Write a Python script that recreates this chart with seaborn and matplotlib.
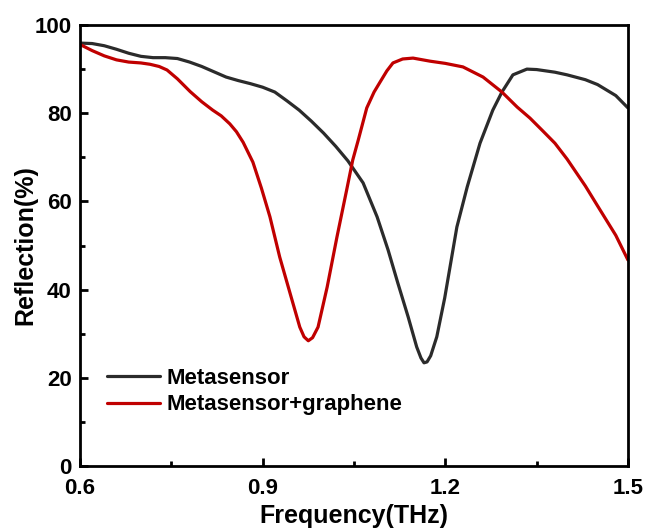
import pandas as pd
import numpy as np
import matplotlib.pyplot as plt
import seaborn as sns
from matplotlib.ticker import MultipleLocator

# Metasensor (black) values
freq_meta = [0.60, 0.62, 0.64, 0.66, 0.68, 0.70, 0.72, 0.74, 0.76, 0.78, 0.80, 0.82,
             0.84, 0.86, 0.88, 0.90, 0.92, 0.94, 0.96, 0.98, 1.00, 1.02, 1.04, 1.065,
             1.088, 1.106, 1.122, 1.139, 1.153, 1.160, 1.165, 1.170, 1.176, 1.186,
             1.199, 1.219, 1.236, 1.257, 1.278, 1.293, 1.311, 1.334, 1.35, 1.38,
             1.40, 1.43, 1.45, 1.48, 1.50]
refl_meta = [95.9, 95.8, 95.3, 94.5, 93.6, 92.9, 92.6, 92.6, 92.4, 91.6, 90.6, 89.4,
             88.2, 87.4, 86.7, 85.9, 84.8, 82.8, 80.7, 78.2, 75.5, 72.5, 69.2, 64.2,
             56.5, 49.0, 41.5, 33.8, 27.0, 24.5, 23.4, 23.6, 25.0, 29.3,
             38.1, 54.2, 63.3, 73.2, 80.7, 84.8, 88.7, 90.0, 89.9, 89.3,
             88.7, 87.6, 86.5, 84.0, 81.2]

# Metasensor+graphene (red) values
freq_gra = [0.60, 0.62, 0.64, 0.66, 0.68, 0.70, 0.715, 0.73, 0.743, 0.76, 0.781, 0.80,
            0.818, 0.832, 0.846, 0.857, 0.868, 0.884, 0.898, 0.912, 0.928, 0.945,
            0.961, 0.968, 0.975, 0.982, 0.991, 1.006, 1.022, 1.038, 1.048, 1.057,
            1.071, 1.083, 1.093, 1.104, 1.114, 1.13, 1.147, 1.175, 1.20, 1.229,
            1.262, 1.293, 1.318, 1.339, 1.36, 1.38, 1.40, 1.43, 1.45, 1.48, 1.50]
refl_gra = [95.6, 94.2, 93.0, 92.1, 91.6, 91.4, 91.1, 90.6, 89.8, 87.8, 84.9, 82.6,
            80.7, 79.4, 77.6, 75.8, 73.4, 68.9, 63.0, 56.5, 47.4, 39.2,
            31.5, 29.3, 28.4, 29.1, 31.5, 40.6, 51.9, 62.6, 69.4, 73.9,
            81.2, 84.8, 87.1, 89.6, 91.4, 92.3, 92.5, 91.8, 91.3, 90.5,
            88.2, 84.8, 81.4, 78.9, 76.0, 73.2, 69.6, 63.5, 59.0, 52.3, 46.7]

df = pd.concat([
    pd.DataFrame({"Frequency": freq_meta, "Reflection": refl_meta, "Sample": "Metasensor"}),
    pd.DataFrame({"Frequency": freq_gra, "Reflection": refl_gra, "Sample": "Metasensor+graphene"}),
])

sns.set_style("ticks")
plt.rcParams["font.family"] = ["Liberation Sans", "DejaVu Sans"]
plt.rcParams["font.weight"] = "bold"
plt.rcParams["text.color"] = "black"
plt.rcParams["axes.labelcolor"] = "black"
plt.rcParams["xtick.color"] = "black"
plt.rcParams["ytick.color"] = "black"

fig = plt.figure(figsize=(6.47, 5.29), dpi=100)
ax = fig.add_axes([0.1236, 0.1191, 0.847, 0.8336])

sns.lineplot(data=df, x="Frequency", y="Reflection", hue="Sample",
             palette={"Metasensor": "#2b2b2b", "Metasensor+graphene": "#c00000"},
             linewidth=2.3, ax=ax, sort=False)

ax.set_xlim(0.6, 1.5)
ax.set_ylim(0, 100)
ax.xaxis.set_major_locator(MultipleLocator(0.3))
ax.xaxis.set_minor_locator(MultipleLocator(0.15))
ax.yaxis.set_major_locator(MultipleLocator(20))
ax.yaxis.set_minor_locator(MultipleLocator(10))
ax.tick_params(axis="both", which="major", direction="in", length=6, width=2,
               labelsize=16)
ax.tick_params(axis="x", which="major", pad=9)
ax.tick_params(axis="y", which="major", pad=6)
ax.tick_params(axis="both", which="minor", direction="in", length=3.5, width=2)
for lab in ax.get_xticklabels() + ax.get_yticklabels():
    lab.set_fontweight("bold")

for side in ["top", "right", "bottom", "left"]:
    ax.spines[side].set_visible(True)
    ax.spines[side].set_linewidth(2)
    ax.spines[side].set_color("black")

ax.set_xlabel("Frequency(THz)", fontsize=18, fontweight="bold", labelpad=3)
ax.set_ylabel("Reflection(%)", fontsize=18, fontweight="bold", labelpad=-2)

leg = ax.legend(loc="lower left", bbox_to_anchor=(0.049, 0.115), frameon=False,
                borderpad=0, borderaxespad=0,
                fontsize=16, handlelength=2.4, handletextpad=0.27, labelspacing=0.25)
for t in leg.get_texts():
    t.set_fontweight("bold")

fig.savefig("out.png", dpi=100)
